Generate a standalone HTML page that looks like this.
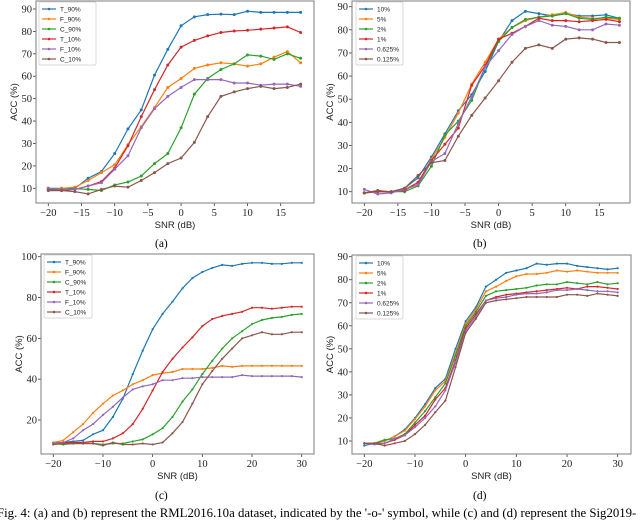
<!DOCTYPE html>
<html><head><meta charset="utf-8"><style>
body{margin:0;background:#fff;width:640px;height:519px;overflow:hidden;position:relative;font-family:"Liberation Sans",sans-serif}
svg{position:absolute;left:0;top:0}
.cap{position:absolute;font-family:"Liberation Serif",serif;font-size:11.5px;white-space:nowrap}
</style></head><body>
<svg id="chart" width="640" height="519" viewBox="0 0 640 519"></svg>
<div class="cap" style="left:155px;top:238px">(a)</div>
<div class="cap" style="left:473px;top:238px">(b)</div>
<div class="cap" style="left:155px;top:490px">(c)</div>
<div class="cap" style="left:473px;top:490px">(d)</div>
<div class="cap" style="left:-3px;top:506px;font-size:12.8px">Fig. 4: (a) and (b) represent the RML2016.10a dataset, indicated by the '-o-' symbol, while (c) and (d) represent the Sig2019-</div>
<script>
const colors=['#1f77b4','#ff7f0e','#2ca02c','#d62728','#9467bd','#8c564b'];
const namesA=['T_90%','F_90%','C_90%','T_10%','F_10%','C_10%'];
const namesB=['10%','5%','2%','1%','0.625%','0.125%'];
const xA=[-20,-18,-16,-14,-12,-10,-8,-6,-4,-2,0,2,4,6,8,10,12,14,16,18];
const xC=[-20,-18,-16,-14,-12,-10,-8,-6,-4,-2,0,2,4,6,8,10,12,14,16,18,20,22,24,26,28,30];
const ticksXA=[-20,-15,-10,-5,0,5,10,15];
const ticksXC=[-20,-10,0,10,20,30];
const ticksY90=[10,20,30,40,50,60,70,80,90];
const ticksY100=[20,40,60,80,100];
const a0=[10,10,10,14.5,17.5,25.5,36.5,45,60.5,72,82.5,86.5,87.5,87.7,87.5,89,88.5,88.5,88.5,88.5];
const a1=[9.5,10,10.5,13.5,17,20.5,29.5,37.5,46,55,59,63.5,65,66,65.5,64.5,65.5,68.5,71,66];
const a2=[9.5,9.5,9.8,9.5,9,11.5,12.8,15.5,21,25.5,37,52,59,63,65.5,69.5,69,67.5,70,68];
const a3=[9,9,9.5,11,13,19,29,42,54,65,73,76,78,79.5,80.2,80.5,81,81.5,82,79.5];
const a4=[10,9.5,9.5,11,12.5,18.5,24.5,37,45.5,51,55,58.5,58.5,58.5,57,57,56,56.5,56.5,55.5];
const a5=[9,9,8.5,7.5,9.5,11,10.5,13.5,17,21,23.5,30.5,42,51,53,54.5,55.5,54.5,55,56.5];
const b0=[9.5,10,10,11.5,16,25,35,45,52,62,75,84,88,87,86,87,86,86,86.5,85];
const b1=[9.5,10,10,11,14,24,33.5,44,56.5,66,76,81,84,85.5,86.5,87.5,85.5,85,85,84.5];
const b2=[9.5,10,10,10,12.5,21,34.5,40.5,49.5,64,75,81,84.5,85.5,86,87,85,84.5,85.5,85];
const b3=[9.5,10,10,10.5,14,23.5,30.5,37.5,56,64.5,76,78.5,81.5,85,84,84,83.5,84,84.5,83.5];
const b4=[11,9,9.5,11,13,23,26.5,39.5,51,64,71,78,81.5,84,82,81.5,80,80,82.5,82];
const b5=[9.5,10.5,10,11.5,17,22.5,23.5,34,43,50.5,58,66,72,73.5,72,76,76.5,76,74.5,74.5];
const c0=[9,9,9.5,10,13,15,21.5,30.5,42.5,54,64.5,72,78,84.5,89.5,92.5,94.5,96,95.5,96.5,97,97,96.5,96.5,97,97];
const c1=[9,10,14,18,23.5,28,32,34.5,37.5,39.5,42,43,43.5,45,45,45,45.5,46.5,46,46.5,46.5,46.5,46.5,46.5,46.5,46.5];
const c2=[8.5,8,8.5,8.5,8.5,8,8.5,8.5,9.5,10.5,13,16,21.5,29,35,42.5,49,55,60,63.5,67,69,70,70.5,71.5,72];
const c3=[8.5,9,9,9,9.5,9.5,11,13.5,18,25.5,34.5,43.5,50,55.5,60.5,66,69.5,71,72,73,75,75,74.5,75,75.5,75.5];
const c4=[8.5,9,11,15,18,22.5,26.5,31,35,36.5,37.5,39.5,39.5,40.5,40.5,41,41,41,41,42,41.5,41.5,41.5,41.5,41.5,41];
const c5=[8,8.5,8.5,8.5,8.5,7.5,9,8,8,8.5,8,9,13.5,19,28,37.5,44,50,55,60,61.5,63,62,62,63,63];
const d0=[8,9,10,12,15,20,26,33,37,50,62,68,77,80,83,84,85,87,86.5,87,87,86,85.5,85,84.5,85];
const d1=[9,9,10,12,14.5,19.5,25,32,36,48,61,67,75,77,79.5,81.5,82.5,82.5,83,84,83.5,84,83.5,83,83,83];
const d2=[9,9,10.5,11,13,18,23,29,35,47,60,66,73,75,75.5,76,76.5,77.5,78,78,79,78.5,78,79,78,78.5];
const d3=[9,9,9,10.5,12.5,17,21,28,33,45,59,65,71,72.5,73.5,74,74.5,75,75.5,76,76.5,76,77,77,76.5,76];
const d4=[9,8.5,9,11,12.5,16,20,25,32,44,58,64,71,72,72.5,73.5,74,74,74.5,75.5,75.5,76,75.5,75,75,74.5];
const d5=[9,9,8,9,10,13,17,22.5,27.5,42,57,63,70,71,71.5,72,72.5,72.5,72.5,72.5,73.5,73.5,73,74,73.5,73];

const NS='http://www.w3.org/2000/svg';
const svg=document.getElementById('chart');
function mk(tag,attrs,parent){const e=document.createElementNS(NS,tag);for(const k in attrs)e.setAttribute(k,attrs[k]);(parent||svg).appendChild(e);return e;}

function panel(p){
  const g=mk('g',{});
  
  
  const sx=v=>p.px0+(v-p.xv0)*(p.px1-p.px0)/(p.xv1-p.xv0);
  const sy=v=>p.py0+(v-p.yv0)*(p.py1-p.py0)/(p.yv1-p.yv0);
  p.ticksX.forEach(t=>{
    const x=sx(t);
    mk('line',{x1:x,x2:x,y1:p.box[3],y2:p.box[3]+3,stroke:'#333','stroke-width':0.8},g);
    const tx=mk('text',{x:x,y:p.box[3]+13,'text-anchor':'middle','font-size':10.5,'font-family':'Liberation Serif, serif',fill:'#222'},g);
    tx.textContent=t<0?'\u2212'+(-t):t;
    
    
  });
  p.ticksY.forEach(t=>{
    const y=sy(t);
    mk('line',{x1:p.box[0]-3,x2:p.box[0],y1:y,y2:y,stroke:'#333','stroke-width':0.8},g);
    const tx=mk('text',{x:p.box[0]-4,y:y+3.5,'text-anchor':'end','font-size':10.5,'font-family':'Liberation Serif, serif',fill:'#222'},g);
    tx.textContent=t;
    
    
  });
  const xl=mk('text',{x:(p.box[0]+p.box[2])/2,y:p.box[3]+25,'text-anchor':'middle','font-size':9.5,fill:'#222'},g);
  xl.textContent='SNR (dB)';
  
  
  const ylx=p.box[0]-19, yly=(p.box[1]+p.box[3])/2;
  const yl=mk('text',{x:ylx,y:yly,'text-anchor':'middle','font-size':9.5,fill:'#222',transform:`rotate(-90 ${ylx} ${yly})`},g);
  yl.textContent='ACC (%)';
  
  
  p.series.forEach((s,i)=>{
    const pts=s.map((v,j)=>sx(p.xs[j]).toFixed(1)+','+sy(v).toFixed(1)).join(' ');
    const pl=mk('polyline',{points:pts,fill:'none',stroke:colors[i],'stroke-width':1.2},g);
    
    
    s.forEach((v,j)=>{
      const m=mk('circle',{cx:sx(p.xs[j]),cy:sy(v),r:p.star?1.1:1.5,fill:colors[i]},g);
      
      
    });
  });
  const fr=mk('rect',{x:p.box[0],y:p.box[1],width:p.box[2]-p.box[0],height:p.box[3]-p.box[1],fill:'none',stroke:'#888','stroke-width':1.1},g);
  
  
  const lg=mk('g',{},g);
  
  
  mk('rect',{x:p.leg[0],y:p.leg[1],width:p.leg[2],height:63,fill:'#fff',stroke:'#ccc','stroke-width':0.7,rx:1.5},lg);
  p.names.forEach((n,i)=>{
    const y=p.leg[1]+7+i*10;
    const x=p.leg[0]+3;
    mk('line',{x1:x,x2:x+14,y1:y,y2:y,stroke:colors[i],'stroke-width':1.2},lg);
    mk('circle',{cx:x+7,cy:y,r:1.3,fill:colors[i]},lg);
    const t=mk('text',{x:x+18,y:y+2.3,'font-size':6.5,fill:'#222'},lg);
    t.textContent=n;
    
    
  });
}
panel({name:'chart-a',box:[36,1,314,203],px0:48.3,xv0:-20,px1:280.7,xv1:15,py0:188.3,yv0:10,py1:9,yv1:90,xs:xA,series:[a0,a1,a2,a3,a4,a5],names:namesA,ticksX:ticksXA,ticksY:ticksY90,leg:[39,2,57]});
panel({name:'chart-b',box:[352,1,630,203],px0:364.3,xv0:-20,px1:599.3,xv1:15,py0:191.7,yv0:10,py1:6.7,yv1:90,xs:xA,series:[b0,b1,b2,b3,b4,b5],names:namesB,ticksX:ticksXA,ticksY:ticksY90,leg:[356,2,47]});
panel({name:'chart-c',box:[41,254,314,454],px0:53.3,xv0:-20,px1:301.7,xv1:30,py0:420,yv0:20,py1:256.7,yv1:100,xs:xC,series:[c0,c1,c2,c3,c4,c5],names:namesA,ticksX:ticksXC,ticksY:ticksY100,leg:[44,255,48],star:true});
panel({name:'chart-d',box:[352,255,631,454],px0:364.3,xv0:-20,px1:617.7,xv1:30,py0:441,yv0:10,py1:256.7,yv1:90,xs:xC,series:[d0,d1,d2,d3,d4,d5],names:namesB,ticksX:ticksXC,ticksY:ticksY90,leg:[356,256,47],star:true});
</script>
</body></html>
